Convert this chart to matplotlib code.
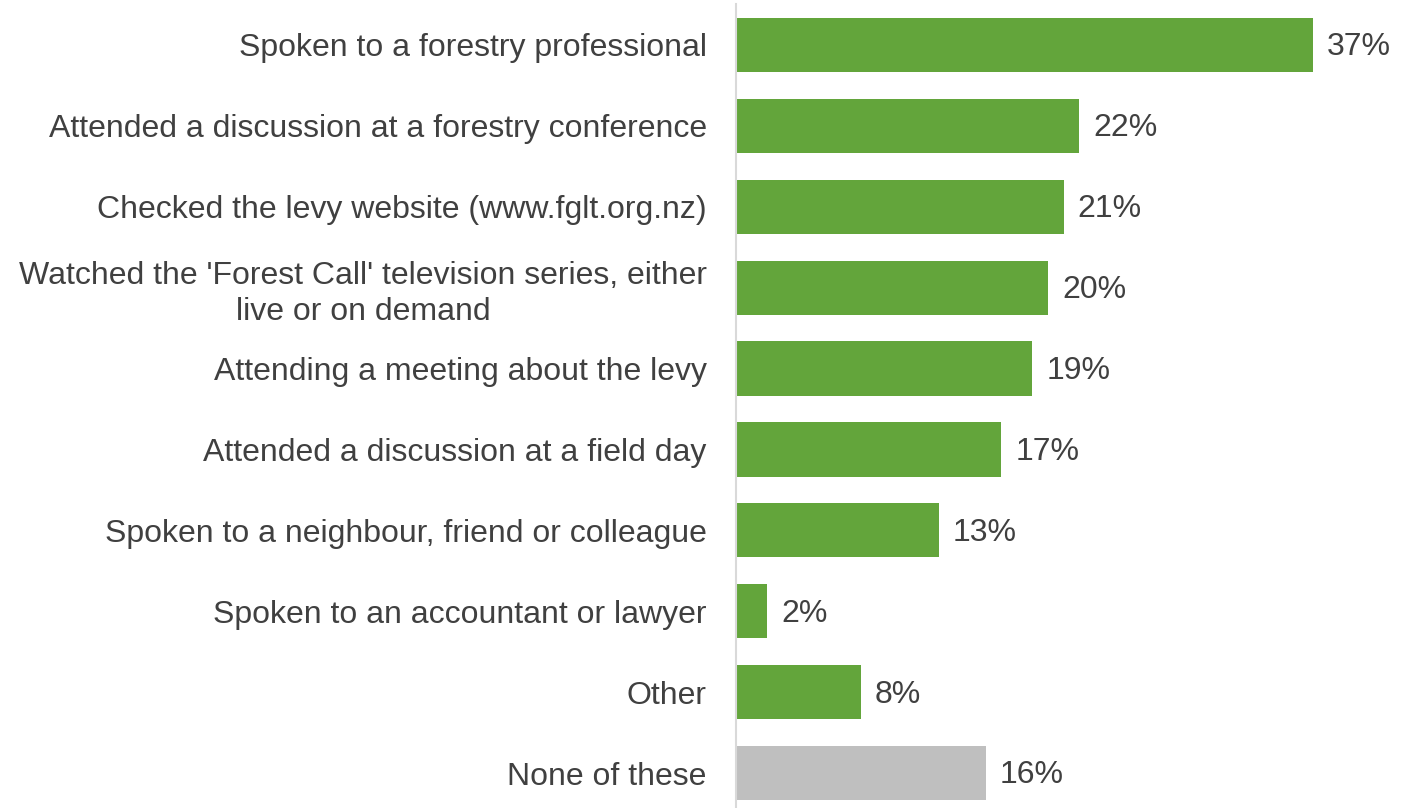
import matplotlib.pyplot as plt

plt.rcParams['font.family'] = ['Liberation Sans', 'DejaVu Sans']

labels = [
    'Spoken to a forestry professional',
    'Attended a discussion at a forestry conference',
    'Checked the levy website (www.fglt.org.nz)',
    "Watched the 'Forest Call' television series, either\nlive or on demand",
    'Attending a meeting about the levy',
    'Attended a discussion at a field day',
    'Spoken to a neighbour, friend or colleague',
    'Spoken to an accountant or lawyer',
    'Other',
    'None of these',
]
values = [37, 22, 21, 20, 19, 17, 13, 2, 8, 16]
colors = ['#63A53B'] * 9 + ['#BFBFBF']

fig = plt.figure(figsize=(14.12, 8.08), dpi=100)
ax = fig.add_axes([736 / 1412, -5.5 / 808, 676 / 1412, 809 / 808])

y = list(range(len(values)))
ax.barh(y, values, height=0.67, color=colors)
ax.set_ylim(len(values) - 0.5, -0.5)
ax.set_xlim(0, 676 / 15.6)

for yi, v in zip(y, values):
    ax.text(v + 0.9, yi + 0.03, f'{v}%', va='center', ha='left', fontsize=23, color='#404040')

ax.set_yticks(y)
ax.set_yticklabels(labels, fontsize=23, color='#404040', ha='right',
                   multialignment='center', linespacing=1.25)
ax.tick_params(axis='y', length=0, pad=21)
ax.set_xticks([])

for s in ['top', 'right', 'bottom']:
    ax.spines[s].set_visible(False)
ax.spines['left'].set_color('#D9D9D9')
ax.spines['left'].set_linewidth(1.5)

plt.savefig('out.png', dpi=100)
